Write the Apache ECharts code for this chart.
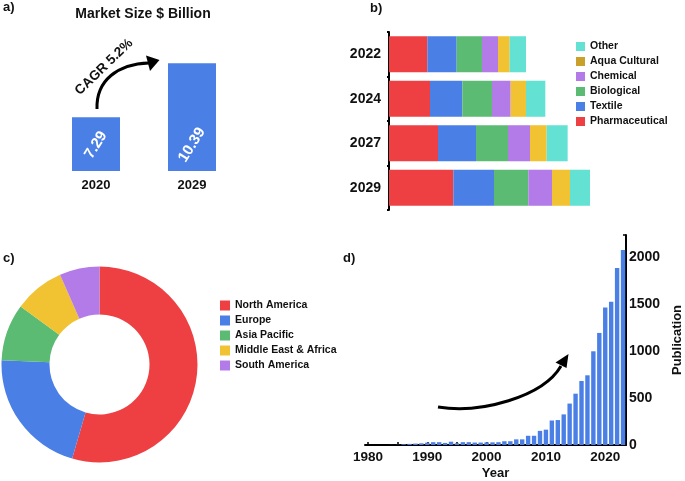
<!DOCTYPE html>
<html>
<head>
<meta charset="utf-8">
<script src="https://cdn.jsdelivr.net/npm/echarts@6/dist/echarts.min.js"></script>
<style>html,body{margin:0;padding:0;background:#fff;}#c{width:685px;height:481px;}</style>
</head>
<body>
<div id="c"></div>
<script>
// ---- a) market size ----
const marketYears = ['2020', '2029'];
const marketSize = [7.29, 10.39];

// ---- b) segments ----
const segYears = ['2022', '2024', '2027', '2029'];
const pharmaceutical = [11.5, 12.3, 14.7, 19.3];
const textile = [8.8, 9.7, 11.4, 12.2];
const biological = [7.6, 8.9, 9.6, 10.3];
const chemical = [4.8, 5.6, 6.6, 7.1];
const aquaCultural = [3.5, 4.6, 5.0, 5.4];
const other = [4.9, 5.8, 6.3, 6.0];

// ---- c) regions ----
const regions = ['North America', 'Europe', 'Asia Pacific', 'Middle East & Africa', 'South America'];
const regionShare = [54.5, 21.2, 9.4, 8.3, 6.6];

// ---- d) publications ----
const pubYears = ['1980','1981','1982','1983','1984','1985','1986','1987','1988','1989',
  '1990','1991','1992','1993','1994','1995','1996','1997','1998','1999',
  '2000','2001','2002','2003','2004','2005','2006','2007','2008','2009',
  '2010','2011','2012','2013','2014','2015','2016','2017','2018','2019',
  '2020','2021','2022','2023'];
const publications = [0, 0, 0, 0, 1, 2, 8, 12, 15, 18,
  25, 30, 30, 22, 35, 18, 30, 30, 26, 26,
  28, 28, 30, 40, 40, 60, 60, 98, 98, 150,
  163, 260, 265, 325, 440, 545, 680, 740, 995, 1190,
  1460, 1520, 1880, 2070];
const pubTicks = [0, 500, 1000, 1500, 2000];

const FONT = 'Liberation Sans, Arial, sans-serif';
const RED = '#ee4043', BLUE = '#4a7fe6', GREEN = '#5bbb73', PURPLE = '#b27be8',
      YELLOW = '#f1c232', CYAN = '#63e2d4', GOLD = '#c9a02a';

const chart = echarts.init(document.getElementById('c'), null, {renderer: 'canvas'});

const bold = (size) => ({fontFamily: FONT, fontWeight: 'bold', fontSize: size, color: '#111'});

function segSeries(name, data, color) {
  return {
    name, type: 'bar', stack: 'seg', data, xAxisIndex: 1, yAxisIndex: 1,
    barCategoryGap: '19%', itemStyle: {color}, silent: true, emphasis: {disabled: true}
  };
}

const option = {
  animation: false,
  textStyle: {fontFamily: FONT},
  grid: [
    {left: 48, width: 192, top: 44, height: 127},
    {left: 389, width: 220, top: 32, height: 178},
    {left: 365, width: 263, top: 235, height: 211.7}
  ],
  xAxis: [
    {gridIndex: 0, type: 'category', data: marketYears,
     axisLine: {show: false}, axisTick: {show: false},
     axisLabel: Object.assign(bold(13), {margin: 8})},
    {gridIndex: 1, type: 'value', min: 0, max: 66, show: false},
    {gridIndex: 2, type: 'category', data: pubYears, boundaryGap: true,
     axisLine: {lineStyle: {color: '#000', width: 2}},
     axisTick: {show: true, inside: true, length: 3, alignWithLabel: true,
       interval: (i, v) => Number(v) % 5 === 0, lineStyle: {color: '#000', width: 1.5}},
     axisLabel: Object.assign(bold(13.5), {margin: 5, interval: (i, v) => Number(v) % 10 === 0}),
     name: 'Year', nameLocation: 'middle', nameGap: 22,
     nameTextStyle: bold(13)}
  ],
  yAxis: [
    {gridIndex: 0, type: 'value', min: 4.2, max: 11.5, show: false},
    {gridIndex: 1, type: 'category', data: segYears, inverse: true,
     axisLine: {lineStyle: {color: '#000', width: 2}},
     axisTick: {show: true, length: 2, lineStyle: {color: '#000', width: 2}},
     axisLabel: Object.assign(bold(14), {margin: 8})},
    {gridIndex: 2, type: 'value', position: 'right', min: 0, max: 2230, interval: 500,
     splitLine: {show: false},
     axisLine: {show: true, lineStyle: {color: '#000', width: 2}},
     axisTick: {show: true, inside: true, length: 3, lineStyle: {color: '#000', width: 1.5}},
     axisLabel: Object.assign(bold(14), {margin: 3,
       formatter: (v) => pubTicks.indexOf(v) >= 0 ? String(v) : ''}),
     name: 'Publication', nameLocation: 'middle', nameGap: 45, nameRotate: 90,
     nameTextStyle: bold(13)}
  ],
  legend: [
    {orient: 'vertical', left: 571, top: 36, itemWidth: 9, itemHeight: 9, itemGap: 4,
     icon: 'rect', selectedMode: false,
     textStyle: Object.assign(bold(10.5), {lineHeight: 11}),
     data: [
       {name: 'Other', itemStyle: {color: CYAN}},
       {name: 'Aqua Cultural', itemStyle: {color: GOLD}},
       {name: 'Chemical', itemStyle: {color: PURPLE}},
       {name: 'Biological', itemStyle: {color: GREEN}},
       {name: 'Textile', itemStyle: {color: BLUE}},
       {name: 'Pharmaceutical', itemStyle: {color: RED}}
     ]},
    {orient: 'vertical', left: 215, top: 295, itemWidth: 10, itemHeight: 10, itemGap: 4,
     icon: 'rect', selectedMode: false,
     textStyle: Object.assign(bold(10.5), {lineHeight: 11}),
     data: regions}
  ],
  series: [
    {type: 'bar', data: marketSize, xAxisIndex: 0, yAxisIndex: 0, barWidth: 48,
     itemStyle: {color: BLUE}, silent: true, emphasis: {disabled: true},
     label: {show: true, position: 'insideBottom', distance: 26, rotate: 58,
       align: 'center', verticalAlign: 'middle',
       color: '#fff', fontFamily: FONT, fontWeight: 'bold', fontSize: 15}},
    segSeries('Pharmaceutical', pharmaceutical, RED),
    segSeries('Textile', textile, BLUE),
    segSeries('Biological', biological, GREEN),
    segSeries('Chemical', chemical, PURPLE),
    segSeries('Aqua Cultural', aquaCultural, YELLOW),
    segSeries('Other', other, CYAN),
    {type: 'pie', center: [99.5, 364.5], radius: [50, 98], startAngle: 90, clockwise: true,
     label: {show: false}, labelLine: {show: false}, silent: true, emphasis: {disabled: true},
     color: [RED, BLUE, GREEN, YELLOW, PURPLE],
     data: regions.map((n, i) => ({name: n, value: regionShare[i]}))},
    {type: 'bar', data: publications, xAxisIndex: 2, yAxisIndex: 2, barWidth: '74%',
     itemStyle: {color: BLUE}, silent: true, emphasis: {disabled: true}}
  ],
  graphic: [
    {type: 'text', x: 3, y: 1, style: {text: 'a)', font: 'bold 13px ' + FONT, fill: '#111'}},
    {type: 'text', x: 370, y: 2, style: {text: 'b)', font: 'bold 13px ' + FONT, fill: '#111'}},
    {type: 'text', x: 3, y: 252, style: {text: 'c)', font: 'bold 13px ' + FONT, fill: '#111'}},
    {type: 'text', x: 343, y: 252, style: {text: 'd)', font: 'bold 13px ' + FONT, fill: '#111'}},
    {type: 'text', x: 143, y: 14, style: {text: 'Market Size $ Billion', font: 'bold 14px ' + FONT,
      fill: '#111', align: 'center', verticalAlign: 'middle'}},
    {type: 'text', x: 104, y: 67, rotation: 44 * Math.PI / 180,
     style: {text: 'CAGR 5.2%', font: 'bold 13.5px ' + FONT, fill: '#111', align: 'center', verticalAlign: 'middle'}},
    {type: 'bezierCurve', shape: {x1: 97, y1: 109, cpx1: 96, cpy1: 80, cpx2: 118, cpy2: 64, x2: 149, y2: 63},
     style: {stroke: '#000', lineWidth: 3, fill: null}},
    {type: 'polygon', shape: {points: [[159.5, 60], [146, 55.5], [150, 71]]}, style: {fill: '#000'}},
    {type: 'bezierCurve', shape: {x1: 438, y1: 407, cpx1: 480, cpy1: 414, cpx2: 543, cpy2: 397, x2: 561, y2: 366},
     style: {stroke: '#000', lineWidth: 3, fill: null}},
    {type: 'polygon', shape: {points: [[568.5, 354], [555.5, 362.5], [566.5, 368]]}, style: {fill: '#000'}}
  ]
};
chart.setOption(option);
</script>
</body>
</html>
